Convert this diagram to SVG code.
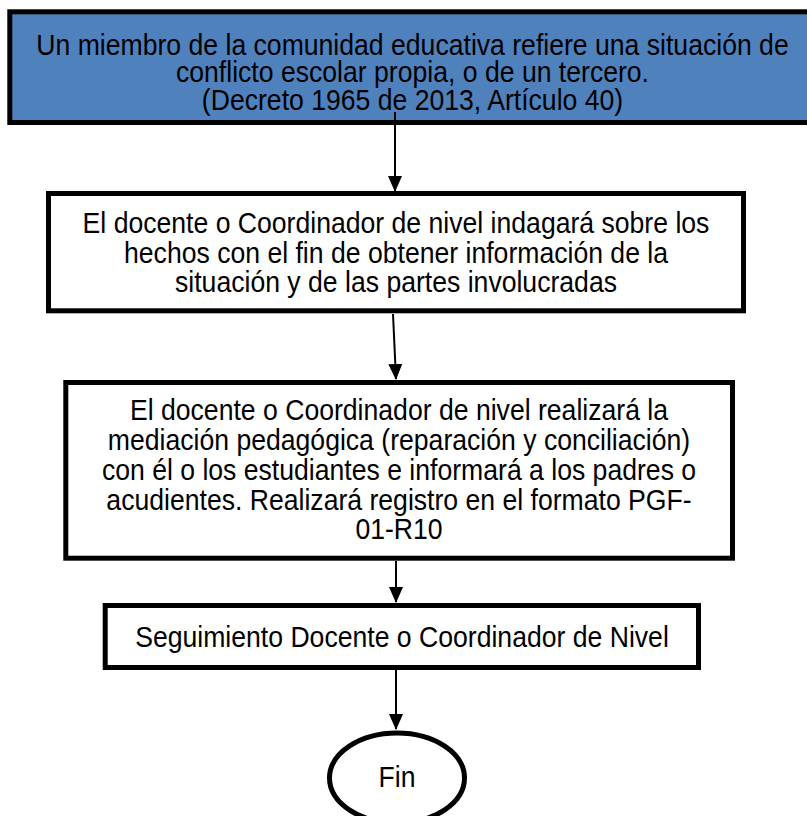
<svg xmlns="http://www.w3.org/2000/svg" width="807" height="816" viewBox="0 0 807 816">
<style>
.box{fill:#fff;stroke:#000;stroke-width:5}
.blue{fill:#4F81BD}
.t{font-family:"Liberation Sans",Arial,sans-serif;font-size:26.6px;fill:#000;text-anchor:middle}
.c{stroke:#000;stroke-width:2;fill:none;marker-end:url(#ah)}
</style>
<defs>
<marker id="ah" markerUnits="userSpaceOnUse" markerWidth="16" markerHeight="16" refX="15" refY="8" orient="auto" viewBox="0 0 16 16">
<path d="M0,1 L16,8 L0,15 Z" fill="#000"/>
</marker>
</defs>
<rect width="807" height="816" fill="#fff"/>
<g id="n1">
<rect class="box blue" x="9.8" y="11.8" width="810" height="110.7"/>
<text class="t" transform="translate(412.5,55) scale(1,1.1)">Un miembro de la comunidad educativa refiere una situación de</text>
<text class="t" transform="translate(412.5,82) scale(1,1.1)">conflicto escolar propia, o de un tercero.</text>
<text class="t" transform="translate(412.5,110) scale(1,1.1)">(Decreto 1965 de 2013, Artículo 40)</text>
</g>
<g id="n2">
<rect class="box" x="48.5" y="193.5" width="695" height="117.3"/>
<text class="t" transform="translate(396,233) scale(1,1.1)">El docente o Coordinador de nivel indagará sobre los</text>
<text class="t" transform="translate(396,262.5) scale(1,1.1)">hechos con el fin de obtener información de la</text>
<text class="t" transform="translate(396,292) scale(1,1.1)">situación y de las partes involucradas</text>
</g>
<g id="n3">
<rect class="box" x="65.8" y="382.5" width="666.7" height="175.7"/>
<text class="t" transform="translate(399,419.5) scale(1,1.1)">El docente o Coordinador de nivel realizará la</text>
<text class="t" transform="translate(399,449.5) scale(1,1.1)">mediación pedagógica (reparación y conciliación)</text>
<text class="t" transform="translate(399,479.5) scale(1,1.1)">con él o los estudiantes e informará a los padres o</text>
<text class="t" transform="translate(399,509.5) scale(1,1.1)">acudientes. Realizará registro en el formato PGF-</text>
<text class="t" transform="translate(399,539) scale(1,1.1)">01-R10</text>
</g>
<g id="n4">
<rect class="box" x="105.2" y="605.5" width="593.3" height="62"/>
<text class="t" transform="translate(402,646.5) scale(1,1.1)">Seguimiento Docente o Coordinador de Nivel</text>
</g>
<g id="n5">
<ellipse class="box" cx="397" cy="778" rx="67.5" ry="45"/>
<text class="t" transform="translate(397,787) scale(1,1.1)">Fin</text>
</g>
<g id="connectors">
<path class="c" d="M395,112 L395,191"/>
<path class="c" d="M393,314 L396,379"/>
<path class="c" d="M396,561 L396,602"/>
<path class="c" d="M396,670 L396,729"/>
</g>
</svg>
